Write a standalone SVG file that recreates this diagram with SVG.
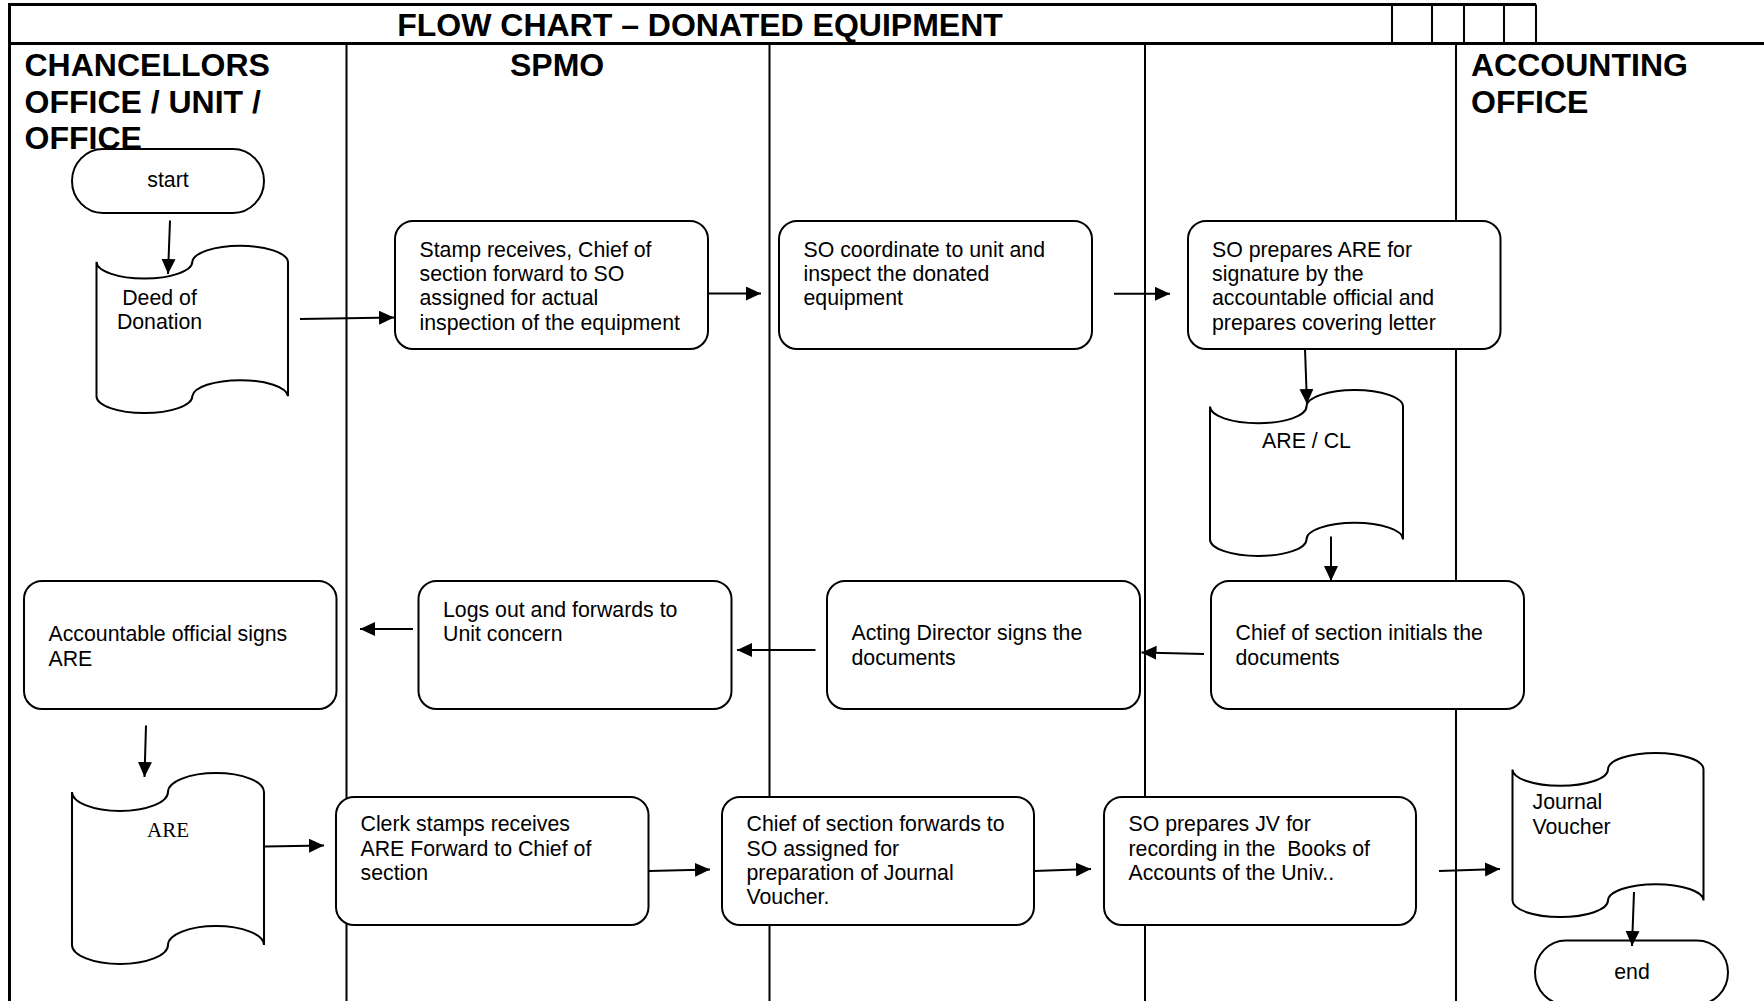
<svg xmlns="http://www.w3.org/2000/svg" width="1764" height="1001" viewBox="0 0 1764 1001">
<defs>
<style>
.frame{stroke:#000;stroke-width:3;fill:none}
.lane{stroke:#000;stroke-width:2;fill:none}
.box{fill:#fff;stroke:#000;stroke-width:2}
.t{font-family:"Liberation Sans",Arial,sans-serif;font-size:21.3px;fill:#000}
.s{font-family:"Liberation Serif","Times New Roman",serif;font-size:21px;fill:#000}
.h{font-family:"Liberation Sans",Arial,sans-serif;font-size:32px;font-weight:bold;fill:#000}
.c{text-anchor:middle}
.edge{stroke:#000;stroke-width:2;fill:none;marker-end:url(#arr)}
</style>
<marker id="arr" markerUnits="userSpaceOnUse" markerWidth="16" markerHeight="16" refX="15" refY="7" orient="auto">
<path d="M0,0 L15,7 L0,14 z" fill="#000"/>
</marker>
</defs>
<rect width="1764" height="1001" fill="#fff"/>
<g id="frame">
<path class="frame" d="M9.5,1001 V4.5 H1536 M9.5,43.5 H1764"/>
<path class="lane" d="M1392,4.5 V43.5 M1432,4.5 V43.5 M1464,4.5 V43.5 M1504,4.5 V43.5 M1536,4.5 V43.5"/>
<path class="lane" d="M346.5,43.5 V1001 M769.5,43.5 V1001 M1145,43.5 V1001 M1456,43.5 V1001"/>
<text class="h c" x="700" y="35.5">FLOW CHART – DONATED EQUIPMENT</text>
</g>
<g id="lane-headers">
<text class="h" x="24.5" y="76">CHANCELLORS</text>
<text class="h" x="24.5" y="112.5">OFFICE / UNIT /</text>
<text class="h" x="24.5" y="149">OFFICE</text>
<text class="h" x="510" y="76">SPMO</text>
<text class="h" x="1471" y="76">ACCOUNTING</text>
<text class="h" x="1471" y="112.5">OFFICE</text>
</g>
<g id="start">
<rect class="box" x="72" y="149" width="192" height="64" rx="31" ry="32"/>
<text class="t c" x="168" y="187">start</text>
</g>
<g id="deed">
<path class="box" d="M96.5,261.8 A47.9,16.8 0 0 0 192.3,261.8 A47.9,16.8 0 0 1 288,261.8 L288,396.2 A47.9,16.8 0 0 0 192.3,396.2 A47.9,16.8 0 0 1 96.5,396.2 Z"/>
<text class="t c" x="159.5" y="304.5">Deed of</text>
<text class="t c" x="159.5" y="329">Donation</text>
</g>
<g id="stamp">
<rect class="box" x="395" y="221" width="313" height="128" rx="18"/>
<text class="t" x="419.5" y="256.5">Stamp receives, Chief of</text>
<text class="t" x="419.5" y="281">section forward to SO</text>
<text class="t" x="419.5" y="305.3">assigned for actual</text>
<text class="t" x="419.5" y="329.7">inspection of the equipment</text>
</g>
<g id="so-coordinate">
<rect class="box" x="779" y="221" width="313" height="128" rx="18"/>
<text class="t" x="803.5" y="256.5">SO coordinate to unit and</text>
<text class="t" x="803.5" y="281">inspect the donated</text>
<text class="t" x="803.5" y="305.3">equipment</text>
</g>
<g id="so-prepares-are">
<rect class="box" x="1188" y="221" width="312.5" height="128" rx="18"/>
<text class="t" x="1212" y="256.5">SO prepares ARE for</text>
<text class="t" x="1212" y="281">signature by the</text>
<text class="t" x="1212" y="305.3">accountable official and</text>
<text class="t" x="1212" y="329.7">prepares covering letter</text>
</g>
<g id="are-cl">
<path class="box" d="M1210,406.6 A48.25,16.6 0 0 0 1306.5,406.6 A48.25,16.6 0 0 1 1403,406.6 L1403,539.4 A48.25,16.6 0 0 0 1306.5,539.4 A48.25,16.6 0 0 1 1210,539.4 Z"/>
<text class="t c" x="1306.5" y="448">ARE / CL</text>
</g>
<g id="chief-initials">
<rect class="box" x="1211" y="581" width="313" height="128" rx="18"/>
<text class="t" x="1235.5" y="640">Chief of section initials the</text>
<text class="t" x="1235.5" y="664.5">documents</text>
</g>
<g id="acting-director">
<rect class="box" x="827" y="581" width="313" height="128" rx="18"/>
<text class="t" x="851.5" y="640">Acting Director signs the</text>
<text class="t" x="851.5" y="664.5">documents</text>
</g>
<g id="logs-out">
<rect class="box" x="418.5" y="581" width="313" height="128" rx="18"/>
<text class="t" x="443" y="616.5">Logs out and forwards to</text>
<text class="t" x="443" y="641">Unit concern</text>
</g>
<g id="accountable-signs">
<rect class="box" x="24" y="581" width="312.5" height="128" rx="18"/>
<text class="t" x="48.5" y="641">Accountable official signs</text>
<text class="t" x="48.5" y="665.5">ARE</text>
</g>
<g id="are">
<path class="box" d="M72,792 A48,19 0 0 0 168,792 A48,19 0 0 1 264,792 L264,945 A48,19 0 0 0 168,945 A48,19 0 0 1 72,945 Z"/>
<text class="s c" x="168" y="837">ARE</text>
</g>
<g id="clerk">
<rect class="box" x="336" y="797" width="312.5" height="128" rx="18"/>
<text class="t" x="360.5" y="831">Clerk stamps receives</text>
<text class="t" x="360.5" y="855.5">ARE Forward to Chief of</text>
<text class="t" x="360.5" y="880">section</text>
</g>
<g id="chief-forwards">
<rect class="box" x="722" y="797" width="312" height="128" rx="18"/>
<text class="t" x="746.5" y="831">Chief of section forwards to</text>
<text class="t" x="746.5" y="855.5">SO assigned for</text>
<text class="t" x="746.5" y="880">preparation of Journal</text>
<text class="t" x="746.5" y="904.4">Voucher.</text>
</g>
<g id="so-prepares-jv">
<rect class="box" x="1104" y="797" width="312" height="128" rx="18"/>
<text class="t" x="1128.5" y="831">SO prepares JV for</text>
<text class="t" x="1128.5" y="855.5" xml:space="preserve">recording in the  Books of</text>
<text class="t" x="1128.5" y="880">Accounts of the Univ..</text>
</g>
<g id="journal-voucher">
<path class="box" d="M1512.5,769.4 A47.75,16.4 0 0 0 1608,769.4 A47.75,16.4 0 0 1 1703.5,769.4 L1703.5,900.6 A47.75,16.4 0 0 0 1608,900.6 A47.75,16.4 0 0 1 1512.5,900.6 Z"/>
<text class="t" x="1532.5" y="809">Journal</text>
<text class="t" x="1532.5" y="833.5">Voucher</text>
</g>
<g id="end">
<rect class="box" x="1535" y="940.5" width="193" height="64" rx="31" ry="32"/>
<text class="t c" x="1632" y="979">end</text>
</g>
<g id="connectors">
<line class="edge" x1="170" y1="220.5" x2="168" y2="274"/>
<line class="edge" x1="300" y1="319" x2="394" y2="317.5"/>
<line class="edge" x1="708" y1="293.5" x2="761" y2="293.5"/>
<line class="edge" x1="1114" y1="293.8" x2="1170" y2="293.8"/>
<line class="edge" x1="1305" y1="349" x2="1307" y2="404"/>
<line class="edge" x1="1331" y1="536.5" x2="1331" y2="581"/>
<line class="edge" x1="1204" y1="654" x2="1141.5" y2="652.5"/>
<line class="edge" x1="815.5" y1="650" x2="737" y2="650"/>
<line class="edge" x1="413" y1="629" x2="360" y2="629"/>
<line class="edge" x1="146" y1="725.5" x2="144.5" y2="777"/>
<line class="edge" x1="265" y1="846.5" x2="324" y2="845.5"/>
<line class="edge" x1="649" y1="871" x2="710" y2="869.5"/>
<line class="edge" x1="1034" y1="871" x2="1091" y2="869"/>
<line class="edge" x1="1439" y1="871" x2="1500" y2="869"/>
<line class="edge" x1="1634" y1="892" x2="1632" y2="946"/>
</g>
</svg>
